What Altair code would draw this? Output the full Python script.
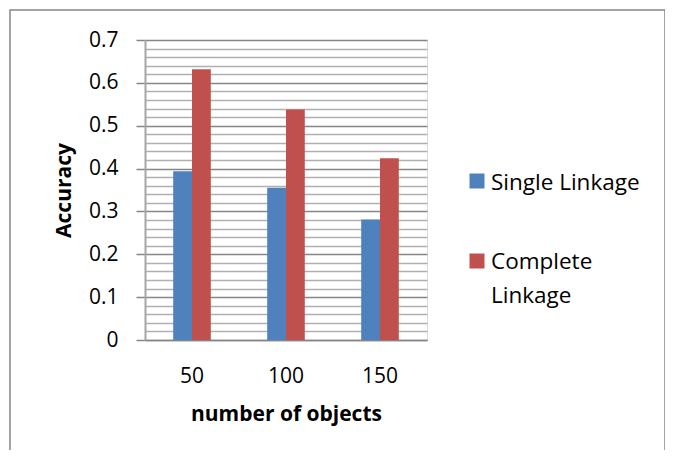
import altair as alt
import pandas as pd

objects = ["50", "100", "150"]
series = ["Single Linkage", "Complete Linkage"]
single = [0.394, 0.355, 0.281]
complete = [0.632, 0.538, 0.424]
y_ticks = [round(i * 0.02, 2) for i in range(36)]
colors = ["#4F81BD", "#C0504D"]

rows = []
for i, n in enumerate(objects):
    rows.append({"n": n, "series": series[0], "acc": single[i]})
    rows.append({"n": n, "series": series[1], "acc": complete[i]})
df = pd.DataFrame(rows)

FONT = "Open Sans"
FS = 21
LFS = 22.5

bars = alt.Chart(df).mark_bar().encode(
    x=alt.X("n:N", sort=objects,
            scale=alt.Scale(paddingInner=0.6, paddingOuter=0.3),
            axis=alt.Axis(title="number of objects", labelAngle=0, ticks=False,
                          domainColor="#868686", domainWidth=1.5,
                          labelPadding=25, titlePadding=17,
                          labelFontSize=FS, titleFontSize=FS, titleFontWeight="bold",
                          labelFont=FONT, titleFont=FONT, labelColor="#000", titleColor="#000")),
    xOffset=alt.XOffset("series:N", sort=series),
    y=alt.Y("acc:Q", scale=alt.Scale(domain=[0, 0.7], nice=False),
            axis=alt.Axis(title="Accuracy", values=y_ticks,
                          labelExpr="round(datum.value*100) % 10 == 0 ? format(datum.value, '.1~f') : ''",
                          gridColor={"condition": {"test": "round(datum.value*100) % 10 == 0", "value": "#868686"}, "value": "#b0b0b0"},
                          gridWidth=1.5,
                          tickSize={"condition": {"test": "round(datum.value*100) % 10 == 0", "value": 9}, "value": 0},
                          tickColor="#868686", tickWidth=1.5,
                          domainColor="#a6a6a6", domainWidth=2,
                          labelPadding=18, titlePadding=14,
                          labelFontSize=FS, titleFontSize=FS, titleFontWeight="bold",
                          labelFont=FONT, titleFont=FONT, labelColor="#000", titleColor="#000")),
    color=alt.Color("series:N", sort=series,
                    scale=alt.Scale(domain=series, range=colors), legend=None),
)

leg_df = pd.DataFrame({"series": series})

def leg_square(name, yv):
    return alt.Chart(leg_df).transform_filter(alt.datum.series == name).mark_square(
        size=225, opacity=1, shape="square").encode(
        x=alt.value(332), y=alt.value(yv),
        color=alt.Color("series:N", sort=series,
                        scale=alt.Scale(domain=series, range=colors), legend=None))

sq1 = leg_square(series[0], 141)
sq2 = leg_square(series[1], 221)

txt1 = alt.Chart(leg_df).transform_filter(alt.datum.series == series[0]).mark_text(
    align="left", baseline="middle", font=FONT, fontSize=LFS, color="#000").encode(
    x=alt.value(346), y=alt.value(143), text="series:N")
txt2 = alt.Chart(leg_df).transform_filter(alt.datum.series == series[1]).transform_calculate(
    lbl="replace(datum.series, ' ', '\\n')").mark_text(
    align="left", baseline="top", font=FONT, fontSize=LFS, color="#000",
    lineBreak="\n", lineHeight=34).encode(
    x=alt.value(346), y=alt.value(211), text="lbl:N")

border = alt.Chart(leg_df).transform_filter(alt.datum.series == series[0]).mark_rect(
    fill=None, stroke="#868686", strokeWidth=1.5).encode(
    x=alt.value(-135), x2=alt.value(520), y=alt.value(-30), y2=alt.value(430))

chart = alt.layer(bars, sq1, sq2, txt1, txt2, border).properties(
    width=282, height=300,
    padding={"left": 137, "top": 32, "right": 238, "bottom": 110},
    autosize=alt.AutoSizeParams(type="none"),
).configure_view(stroke=None).configure(background="white")

chart.save("out.html", embed_options={"renderer": "svg", "actions": False})
